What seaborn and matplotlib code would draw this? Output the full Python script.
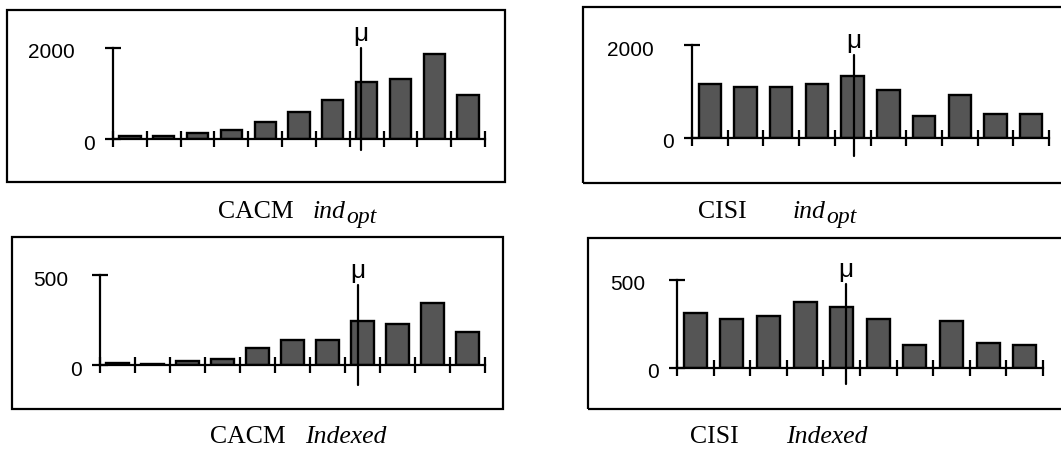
import matplotlib
matplotlib.use("Agg")
import numpy as np
import pandas as pd
import matplotlib.pyplot as plt
import seaborn as sns
from matplotlib.patches import Rectangle

# --- datos ---
cacm_indopt = [70, 70, 130, 190, 370, 600, 850, 1260, 1310, 1860, 960]
cisi_indopt = [1160, 1100, 1100, 1160, 1330, 1040, 470, 920, 520, 520]
cacm_indexed = [9, 7, 20, 34, 93, 140, 140, 243, 228, 347, 183]
cisi_indexed = [312, 281, 296, 373, 344, 281, 129, 267, 142, 129]

series = [cacm_indopt, cisi_indopt, cacm_indexed, cisi_indexed]
y_tops = [2000, 2000, 500, 500]
mu_pos = [6.84, 4.04, 6.87, 4.12]  # posicion de mu en unidades de intervalo
names = ["CACM", "CISI", "CACM", "CISI"]
kinds = ["ind_opt", "ind_opt", "Indexed", "Indexed"]

sns.set_theme(style="white")
plt.rcParams["font.family"] = ["Liberation Sans", "DejaVu Sans"]
plt.rcParams["text.color"] = "black"

W, H = 1061, 450
fig = plt.figure(figsize=(W / 100, H / 100), dpi=100)

# layout en pixeles: eje interior (x0, x1, ytop, yzero), caja (x0, x1, y0, y1)
inner = [(113, 485, 48, 139), (692, 1049, 45, 138),
         (100, 485, 275, 365), (677, 1043, 280, 368)]
boxes = [(7, 505, 10, 182), (583, 1075, 7, 183),
         (12, 503, 237, 409), (588, 1075, 238, 409)]
mu_ext = [(1.0, -0.12), (0.89, -0.19), (0.89, -0.22), (0.95, -0.18)]
cap_pos = [(218, 313, 218), (698, 793, 218), (210, 305, 443), (690, 786, 443)]

for i, vals in enumerate(series):
    x0, x1, yt, yz = inner[i]
    ax = fig.add_axes([x0 / W, 1 - yz / H, (x1 - x0) / W, (yz - yt) / H])
    df = pd.DataFrame({"bin": np.arange(len(vals)), "n": vals})
    sns.barplot(data=df, x="bin", y="n", color="#555555", saturation=1,
                edgecolor="black", linewidth=1.7, width=0.63, ax=ax)
    n = len(vals)
    ax.set_xlim(-0.5, n - 0.5)
    ax.set_ylim(0, y_tops[i])
    ax.set_xticks(np.arange(n + 1) - 0.5)
    ax.set_xticklabels([])
    ax.set_yticks([0, y_tops[i]])
    ax.set_yticklabels([])
    ax.set_xlabel("")
    ax.set_ylabel("")
    ax.patch.set_visible(False)
    for s in ["top", "right"]:
        ax.spines[s].set_visible(False)
    for s in ["left", "bottom"]:
        ax.spines[s].set_linewidth(1.6)
        ax.spines[s].set_color("black")
    ax.tick_params(direction="inout", length=12, width=1.6, color="black",
                   left=True, bottom=True)

    # etiquetas del eje y
    for v in [0, y_tops[i]]:
        lab = str(v)
        ax.annotate(lab, xy=(0, v), xycoords=("axes fraction", "data"),
                    xytext=(-(12 + 6.5 * len(lab)), -5), textcoords="offset pixels",
                    ha="right", va="center", fontsize=15, color="black")

    # linea de la media
    top, bot = mu_ext[i]
    ax.plot([mu_pos[i], mu_pos[i]], [bot, top], color="black", lw=1.6,
            transform=ax.get_xaxis_transform(), clip_on=False)
    ax.annotate("μ", xy=(mu_pos[i], top), xycoords=ax.get_xaxis_transform(),
                xytext=(0, 2), textcoords="offset pixels",
                ha="center", va="bottom", fontsize=19, color="black")

    # caja
    bx0, bx1, by0, by1 = boxes[i]
    fig.add_artist(Rectangle((bx0 / W, 1 - by1 / H), (bx1 - bx0) / W, (by1 - by0) / H,
                             transform=fig.transFigure, fill=False,
                             lw=1.6, ec="black"))

# leyendas de cada panel
renderer = fig.canvas.get_renderer()
for i in range(4):
    nx, kx, yb = cap_pos[i]
    fig.text(nx / W, 1 - yb / H, names[i], family="Liberation Serif",
             fontsize=18.5, va="baseline", ha="left", color="black")
    if kinds[i] == "ind_opt":
        t = fig.text(kx / W, 1 - yb / H, "ind", family="Liberation Serif",
                     style="italic", fontsize=18.5, va="baseline", ha="left",
                     color="black")
        w = t.get_window_extent(renderer).width
        fig.text((kx + w) / W, 1 - (yb + 5) / H, "opt", family="Liberation Serif",
                 style="italic", fontsize=17, va="baseline", ha="left",
                 color="black")
    else:
        fig.text(kx / W, 1 - yb / H, kinds[i], family="Liberation Serif",
                 style="italic", fontsize=18.5, va="baseline", ha="left",
                 color="black")

fig.savefig("out.png", dpi=100)
